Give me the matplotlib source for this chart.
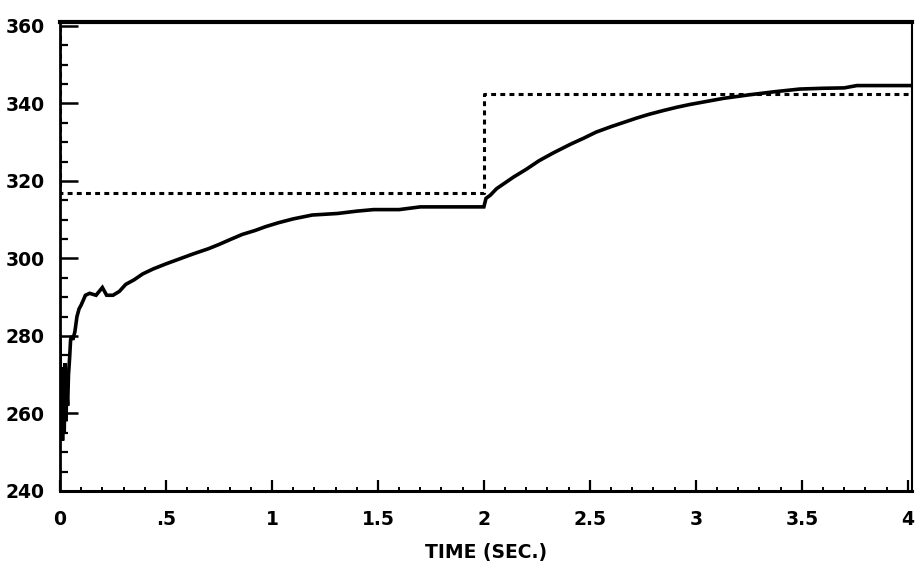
import numpy as np
import matplotlib
matplotlib.use('Agg')
import matplotlib.pyplot as plt
from matplotlib.ticker import MultipleLocator, FixedLocator

# measured response (solid)
t_meas = [0, 0.004, 0.008, 0.012, 0.016, 0.02, 0.024, 0.028, 0.032, 0.036, 0.04,
          0.045, 0.05, 0.055, 0.06, 0.07, 0.08, 0.09, 0.1, 0.12, 0.14, 0.17, 0.2,
          0.22, 0.25, 0.28, 0.31, 0.35, 0.39, 0.44, 0.5, 0.56, 0.63, 0.7, 0.75,
          0.8, 0.86, 0.92, 0.97, 1.03, 1.1, 1.19, 1.31, 1.4, 1.48, 1.6, 1.7, 1.8,
          1.9, 2.0, 2.01, 2.03, 2.06, 2.1, 2.14, 2.2, 2.26, 2.33, 2.41, 2.47, 2.53,
          2.6, 2.66, 2.72, 2.78, 2.85, 2.91, 2.97, 3.03, 3.13, 3.25, 3.37, 3.49,
          3.6, 3.7, 3.76, 3.85, 4.02]
v_meas = [280, 256, 272, 253, 268, 255, 273, 258, 266, 262, 270,
          274, 279, 280, 279, 281, 285, 287, 288, 290.5, 291, 290.5, 292.5,
          290.5, 290.5, 291.5, 293.3, 294.5, 296, 297.3, 298.6, 299.8, 301.2, 302.5, 303.6,
          304.8, 306.2, 307.2, 308.2, 309.2, 310.2, 311.2, 311.6, 312.2, 312.6, 312.6, 313.3, 313.3,
          313.3, 313.3, 315.5, 316.3, 318, 319.5, 321, 323, 325.2, 327.3, 329.5, 331, 332.6,
          334, 335.1, 336.2, 337.2, 338.2, 339, 339.7, 340.3, 341.3, 342.2, 343, 343.7,
          343.9, 344, 344.6, 344.6, 344.6]

# setpoint (dashed)
t_set = [0, 0, 2, 2, 4.02]
v_set = [360, 317, 317, 342.5, 342.5]

xticks = [0, 0.5, 1, 1.5, 2, 2.5, 3, 3.5, 4]
xticklabels = ['0', '.5', '1', '1.5', '2', '2.5', '3', '3.5', '4']
yticks = [240, 260, 280, 300, 320, 340, 360]

fig = plt.figure(figsize=(9.2, 5.77), dpi=100)
ax = fig.add_axes([60/920, 1-491/577, 852/920, 469/577])

ax.plot(t_set, v_set, color='black', linewidth=2.2, linestyle=(0, (1.6, 1.4)))
ax.plot(t_meas, v_meas, color='black', linewidth=2.6, solid_joinstyle='miter')

ax.set_xlim(0, 4.02)
ax.set_ylim(240, 361)

ax.xaxis.set_major_locator(FixedLocator(xticks))
ax.set_xticklabels(xticklabels)
ax.xaxis.set_minor_locator(MultipleLocator(0.1))
ax.set_yticks(yticks)
ax.yaxis.set_minor_locator(MultipleLocator(5))

ax.tick_params(axis='x', which='major', direction='in', length=8, width=1.6, pad=14,
               labelsize=13.5, top=False)
ax.tick_params(axis='x', which='minor', direction='in', length=3, width=1.4, top=False)
ax.tick_params(axis='y', which='major', direction='in', length=13, width=1.8, pad=11,
               labelsize=13.5, right=False)
ax.tick_params(axis='y', which='minor', direction='in', length=6, width=1.6, right=False)

for lab in ax.get_xticklabels() + ax.get_yticklabels():
    lab.set_fontweight('bold')

ax.spines['top'].set_linewidth(3)
ax.spines['bottom'].set_linewidth(2.2)
ax.spines['left'].set_linewidth(2)
ax.spines['right'].set_linewidth(1.5)

ax.set_xlabel('TIME (SEC.)', fontsize=13.5, fontweight='bold', labelpad=10)

plt.savefig('out.png', dpi=100)
plt.close()
